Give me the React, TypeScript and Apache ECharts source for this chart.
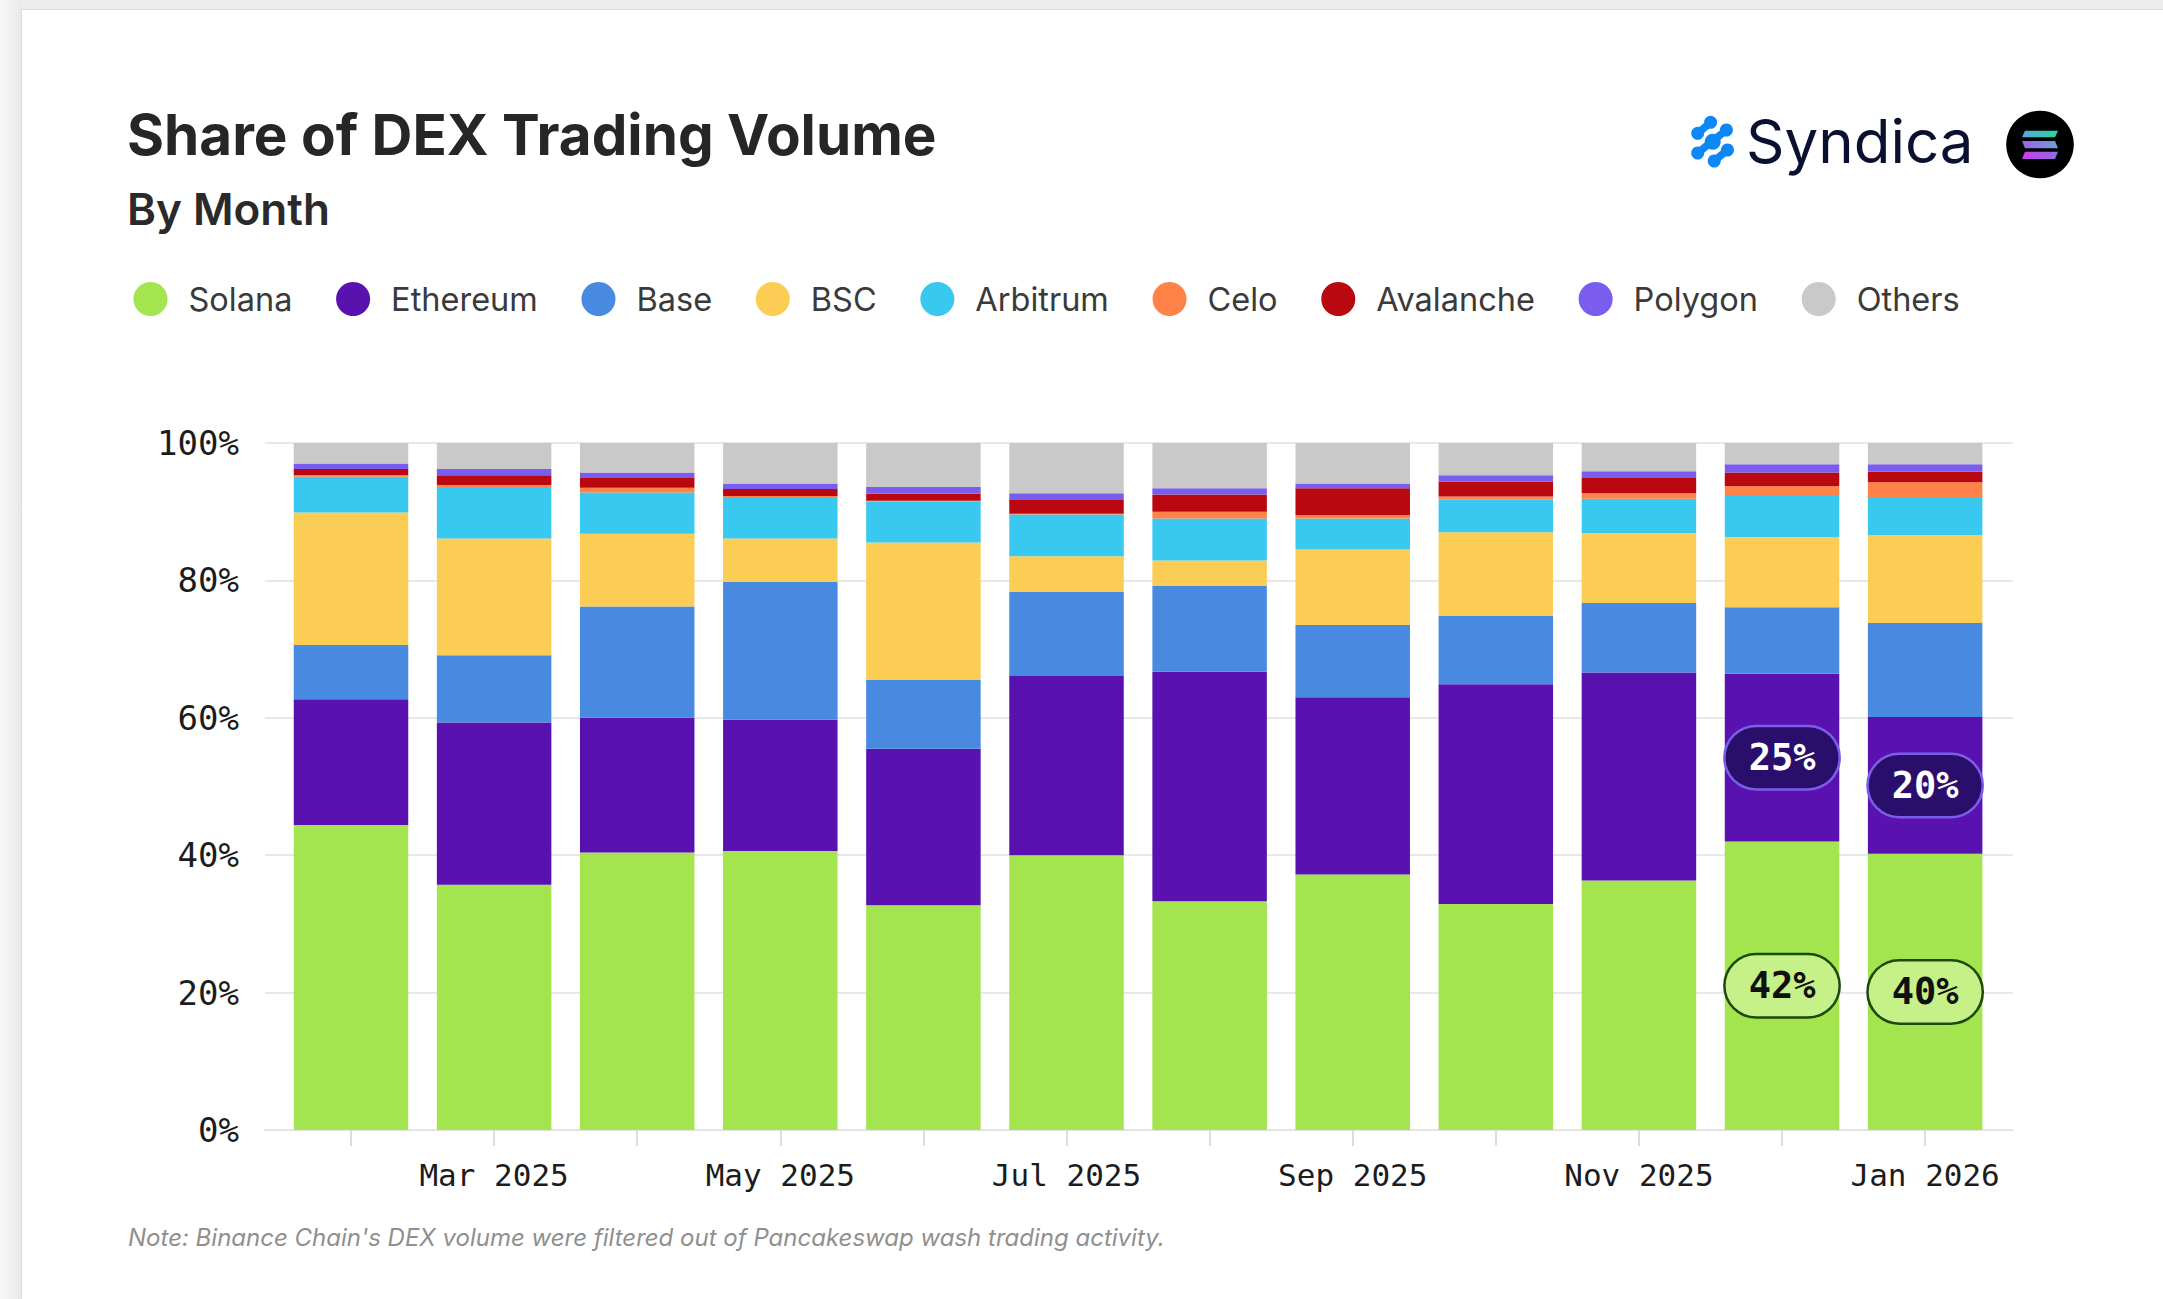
import React, { useEffect, useRef } from "react";
import * as echarts from "echarts";

const months = ["Feb 2025", "Mar 2025", "Apr 2025", "May 2025", "Jun 2025", "Jul 2025", "Aug 2025", "Sep 2025", "Oct 2025", "Nov 2025", "Dec 2025", "Jan 2026"];
const labelledMonths = [1, 3, 5, 7, 9, 11];
const yTicks = [0, 20, 40, 60, 80, 100];

const solana = [44.4, 35.7, 40.4, 40.6, 32.7, 40.0, 33.3, 37.2, 32.9, 36.3, 42.0, 40.2];
const ethereum = [18.3, 23.6, 19.6, 19.1, 22.8, 26.1, 33.4, 25.8, 32.0, 30.3, 24.4, 19.9];
const base = [7.9, 9.8, 16.2, 20.1, 10.0, 12.2, 12.5, 10.5, 9.9, 10.1, 9.7, 13.7];
const bsc = [19.3, 17.0, 10.6, 6.3, 20.0, 5.2, 3.7, 11.0, 12.2, 10.2, 10.2, 12.8];
const arbitrum = [5.2, 7.5, 6.0, 5.9, 6.0, 6.1, 6.1, 4.5, 4.8, 5.0, 6.0, 5.4];
const celo = [0.2, 0.3, 0.7, 0.3, 0.1, 0.1, 1.0, 0.5, 0.4, 0.8, 1.4, 2.3];
const avalanche = [0.9, 1.4, 1.4, 1.0, 1.0, 2.0, 2.5, 3.9, 2.2, 2.2, 2.0, 1.5];
const polygon = [0.8, 0.9, 0.8, 0.8, 1.0, 1.0, 0.9, 0.7, 0.9, 1.0, 1.2, 1.1];
const others = [3.0, 3.8, 4.3, 5.9, 6.4, 7.3, 6.6, 5.9, 4.7, 4.3, 3.1, 3.1];

const solanaPills: Record<number, string> = { 10: "42%", 11: "40%" };
const ethereumPills: Record<number, string> = { 10: "25%", 11: "20%" };

const MONO = "'DejaVu Sans Mono', monospace";
const SANS = "Inter, 'Liberation Sans', sans-serif";

function pill(text: string, dark: boolean) {
  return {
    show: true,
    position: "inside",
    formatter: text,
    fontFamily: MONO,
    fontWeight: "bold",
    fontSize: 37,
    lineHeight: 37,
    color: dark ? "#ffffff" : "#101010",
    backgroundColor: dark ? "#2a0e6c" : "#c6f088",
    borderColor: dark ? "#7a5ee6" : "#1d4a0a",
    borderWidth: 2.5,
    borderRadius: 31,
    padding: [12, 23, 12, 23],
  };
}

function seriesOf(name: string, values: number[], color: string, pills?: Record<number, string>, dark = false) {
  return {
    name,
    type: "bar",
    stack: "share",
    barWidth: 114.5,
    itemStyle: { color },
    emphasis: { disabled: true },
    z: 2,
    // The share comes first so that it, and not the month index, is what ECharts stacks.
    encode: { x: 1, y: 0 },
    data: values.map((v, i) =>
      pills && pills[i] ? { value: [v, i], label: pill(pills[i], dark) } : { value: [v, i] }
    ),
  };
}

function buildOption() {
  const blue = "#0c87f5";
  const logoLine = (x1: number, y1: number, x2: number, y2: number) => ({
    type: "line",
    shape: { x1, y1, x2, y2 },
    style: { stroke: blue, lineWidth: 7.5, lineCap: "round" },
  });
  const blob = (cx: number, cy: number, r = 6.5) => ({
    type: "circle",
    shape: { cx, cy, r },
    style: { fill: blue },
  });
  const sol = (pts: number[][], c1: string, c2: string) => ({
    type: "polygon",
    shape: { points: pts },
    style: {
      fill: new echarts.graphic.LinearGradient(0, 0, 1, 0, [
        { offset: 0, color: c1 },
        { offset: 1, color: c2 },
      ]),
    },
  });
  return {
    animation: false,
    backgroundColor: "transparent",
    grid: { left: 265, top: 443, width: 1748, height: 687, containLabel: false },
    legend: {
      left: 128.5,
      top: 277,
      icon: "circle",
      itemWidth: 34,
      itemHeight: 34,
      itemGap: 43.7,
      selectedMode: false,
      textStyle: { fontFamily: SANS, fontSize: 32.5, color: "#3a3a3a", padding: [0, 0, 0, 16] },
    },
    xAxis: {
      type: "value",
      min: -0.601,
      max: 11.614,
      splitLine: { show: false },
      axisLine: { show: true, lineStyle: { color: "#e4e4e4", width: 2 } },
      axisTick: {
        show: true,
        customValues: months.map((_, i) => i),
        length: 16,
        lineStyle: { color: "#dddddd", width: 2 },
      },
      axisLabel: {
        customValues: labelledMonths,
        formatter: (v: number) => months[v] ?? "",
        fontFamily: MONO,
        fontSize: 31,
        color: "#1c1c1c",
        margin: 29,
      },
    },
    yAxis: {
      type: "value",
      min: 0,
      max: 100,
      interval: 20,
      axisLine: { show: false },
      axisTick: { show: false },
      splitLine: { lineStyle: { color: "#e8e8e8", width: 2 } },
      axisLabel: {
        formatter: (v: number) => (yTicks.includes(v) ? `${v}%` : ""),
        fontFamily: MONO,
        fontSize: 34,
        color: "#1c1c1c",
        margin: 26,
        padding: [0, 0, 7, 0],
      },
    },
    series: [
      seriesOf("Solana", solana, "#a3e44f", solanaPills, false),
      seriesOf("Ethereum", ethereum, "#5911b0", ethereumPills, true),
      seriesOf("Base", base, "#478ae0"),
      seriesOf("BSC", bsc, "#fbcd55"),
      seriesOf("Arbitrum", arbitrum, "#38c8f0"),
      seriesOf("Celo", celo, "#ff8349"),
      seriesOf("Avalanche", avalanche, "#b90810"),
      seriesOf("Polygon", polygon, "#7a5cee"),
      seriesOf("Others", others, "#c9c9c9"),
    ],
    graphic: [
      {
        type: "text",
        x: 127,
        y: 134,
        style: { text: "Share of DEX Trading Volume", font: `700 56.6px ${SANS}`, fill: "#262626", textVerticalAlign: "middle" },
      },
      {
        type: "text",
        x: 127,
        y: 209,
        style: { text: "By Month", font: `600 44px ${SANS}`, fill: "#2a2a2a", textVerticalAlign: "middle" },
      },
      {
        type: "text",
        x: 128,
        y: 1237,
        style: { text: "Note: Binance Chain's DEX volume were filtered out of Pancakeswap wash trading activity.", font: `italic 400 24px ${SANS}`, fill: "#8f8f8f", textVerticalAlign: "middle" },
      },
      logoLine(1697.7, 133.3, 1710.6, 122.3),
      blob(1697.7, 133.3),
      blob(1710.6, 122.3),
      logoLine(1697.7, 153, 1726.4, 130),
      blob(1697.7, 153),
      blob(1712.7, 141.7, 8),
      blob(1726.4, 130),
      logoLine(1714.2, 161, 1727.5, 150),
      blob(1714.2, 161),
      blob(1727.5, 150),
      {
        type: "text",
        x: 1746,
        y: 141,
        style: { text: "Syndica", font: `400 60px ${SANS}`, fill: "#0a1130", textVerticalAlign: "middle" },
      },
      { type: "circle", shape: { cx: 2040, cy: 144.5, r: 33.8 }, style: { fill: "#000000" } },
      sol([[2025, 130.7], [2058, 130.7], [2055, 137.3], [2022, 137.3]], "#5aa5d8", "#2bd6a0"),
      sol([[2022, 141], [2055, 141], [2058, 148.3], [2025, 148.3]], "#9a63e8", "#6f9fd8"),
      sol([[2025, 151.7], [2058, 151.7], [2055, 159], [2022, 159]], "#cc3cf0", "#8a70e0"),
    ],
  };
}

export default function App() {
  const ref = useRef<HTMLDivElement>(null);
  useEffect(() => {
    document.body.style.margin = "0";
    const chart = echarts.init(ref.current!, undefined, { renderer: "svg" });
    chart.setOption(buildOption() as any);
    return () => chart.dispose();
  }, []);
  return (
    <div style={{ position: "absolute", left: 0, top: 0, width: 2163, height: 1299, overflow: "hidden", background: "#ededed" }}>
      <div style={{ position: "absolute", left: 0, top: 0, width: 21, height: 1299, background: "linear-gradient(90deg,#f7f7f7,#e9e9e9)" }} />
      <div style={{ position: "absolute", left: 21, top: 9, width: 2142, height: 1290, background: "#ffffff", borderTop: "1px solid #d8d8d8", borderLeft: "1px solid #dedede", boxSizing: "border-box" }} />
      <div ref={ref} style={{ position: "absolute", left: 0, top: 0, width: 2163, height: 1299 }} />
    </div>
  );
}
